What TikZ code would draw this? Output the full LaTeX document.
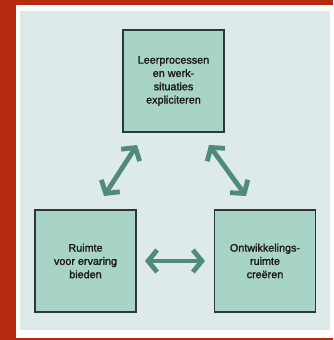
\documentclass[tikz,border=0pt]{standalone}
\usepackage{fontspec}
\newfontfamily\labfont{Liberation Sans}[FakeBold=1.6]
\usetikzlibrary{arrows.meta}
\definecolor{bgred}{HTML}{B62A10}
\definecolor{panel}{HTML}{DEEAEA}
\definecolor{boxfill}{HTML}{A8D4C8}
\definecolor{boxline}{HTML}{2E3835}
\definecolor{arrowc}{HTML}{4F8A7D}
\tikzset{
  stepbox/.style={draw=boxline, line width=1.1pt, fill=boxfill, minimum width=101pt, minimum height=102pt, inner sep=0pt, align=center, font=\labfont\fontsize{10.8}{13.3}\selectfont, text=black!90},
  dblarrow/.style={draw=arrowc, line width=4.8pt, {Straight Barb[length=9pt,width=22pt,line width=4.8pt]}-{Straight Barb[length=9pt,width=22pt,line width=4.8pt]}}
}
\begin{document}
\begin{tikzpicture}[x=1pt,y=-1pt]
\useasboundingbox (0,0) rectangle (333,340);
\fill[bgred] (0,0) rectangle (333,340);
\fill[white] (16,5) rectangle (333,338);
\fill[panel] (20,11) rectangle (330,330);
\node[stepbox] (top) at (173.5,81) {Leerprocessen\\en werk-\\situaties\\expliciteren};
\node[stepbox] (left) at (85.5,261) {Ruimte\\voor ervaring\\bieden};
\node[stepbox] (right) at (265,261) {Ontwikkelings-\\ruimte\\creëren};
\coordinate (a1) at (104,196);
\coordinate (a2) at (137,145);
\coordinate (b1) at (209,145);
\coordinate (b2) at (246,196);
\coordinate (c1) at (145,261);
\coordinate (c2) at (205,261);
\draw[dblarrow] (a1) -- (a2);
\draw[dblarrow] (b1) -- (b2);
\draw[dblarrow] (c1) -- (c2);
\end{tikzpicture}
\end{document}
